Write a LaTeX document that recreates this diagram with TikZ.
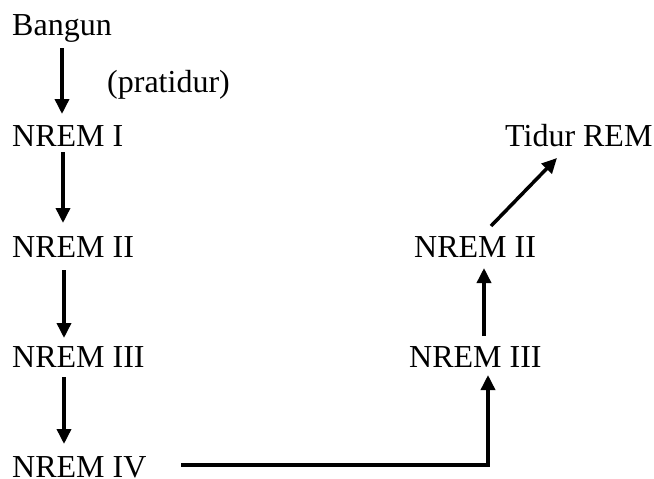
\documentclass[tikz,border=0pt]{standalone}
\usepackage{fontspec}
\setmainfont{Liberation Serif}
\usetikzlibrary{arrows.meta}
\begin{document}
\begin{tikzpicture}[x=1pt,y=-1pt,
  lbl/.style={anchor=base west,inner sep=0pt,font=\fontsize{32}{36}\selectfont},
  conn/.style={line width=3.5pt,-{Triangle[length=15pt,width=14pt]}}]
\useasboundingbox (0,0) rectangle (654,479);
\node[lbl] (bangun) at (12,35) {Bangun};
\node[lbl] (prat) at (107,92) {(pratidur)};
\node[lbl] (n1) at (12,146) {NREM I};
\node[lbl] (n2) at (12,257) {NREM II};
\node[lbl] (n3) at (12,367) {NREM III};
\node[lbl] (n4) at (12,477) {NREM IV};
\node[lbl] (tidur) at (505,146) {Tidur REM};
\node[lbl] (r2) at (414,257) {NREM II};
\node[lbl] (r3) at (409,367) {NREM III};
% connector end points
\coordinate (a1s) at (62,48);  \coordinate (a1e) at (62,114);
\coordinate (a2s) at (63,152); \coordinate (a2e) at (63,223);
\coordinate (a3s) at (64,270); \coordinate (a3e) at (64,338);
\coordinate (a4s) at (64,377); \coordinate (a4e) at (64,444);
\coordinate (hs) at (181,465); \coordinate (hc) at (488,465); \coordinate (he) at (488,375);
\coordinate (b1s) at (484,336); \coordinate (b1e) at (484,268);
\coordinate (cs) at (491,226); \coordinate (ce) at (557,158);
\draw[conn] (a1s) -- (a1e);
\draw[conn] (a2s) -- (a2e);
\draw[conn] (a3s) -- (a3e);
\draw[conn] (a4s) -- (a4e);
\draw[conn] (hs) -- (hc) -- (he);
\draw[conn] (b1s) -- (b1e);
\draw[conn] (cs) -- (ce);
\end{tikzpicture}
\end{document}
